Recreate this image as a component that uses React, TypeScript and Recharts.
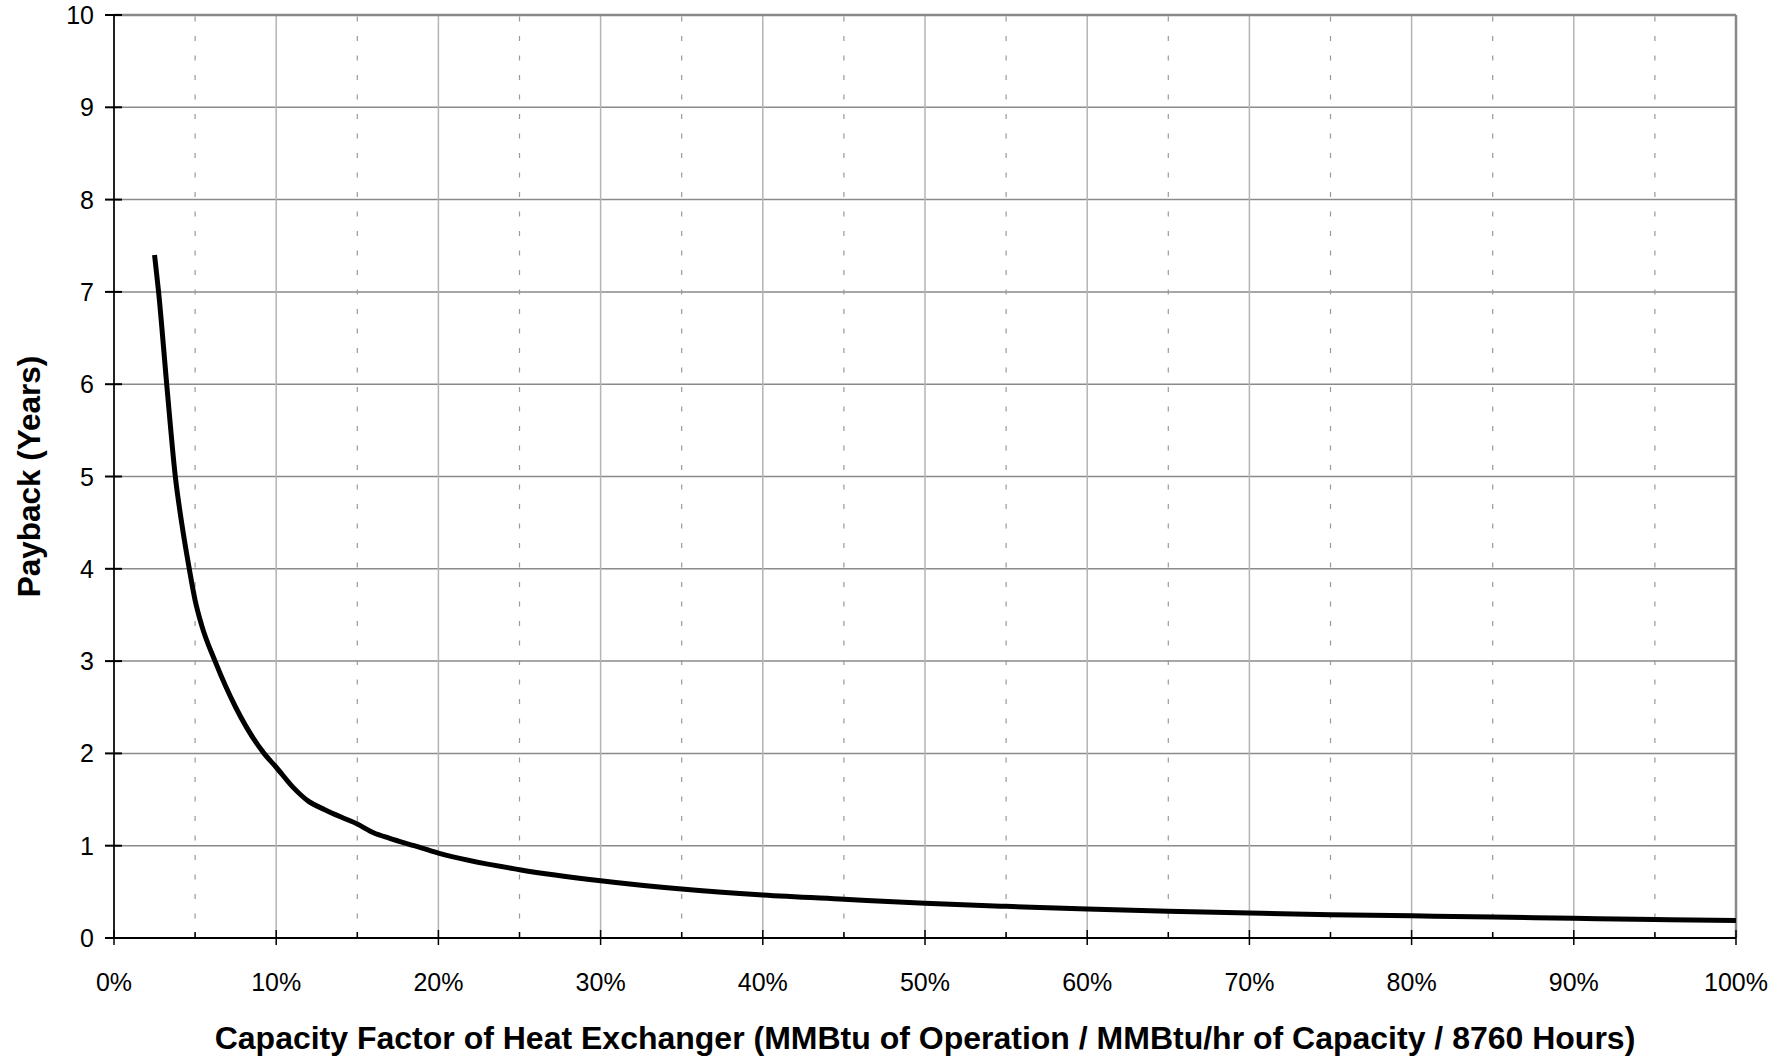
import { LineChart, Line, XAxis, YAxis, CartesianGrid, ReferenceLine } from 'recharts';

const capacityFactor = [
  2.5, 2.75, 3.25, 3.8, 4.17, 4.64, 5.0, 5.4, 6.23, 7.5, 9.25, 10, 11, 12, 13, 14, 15, 16, 17, 18.5, 20,
  25, 30, 35, 40, 45, 50, 55, 60, 65, 70, 75, 80, 85, 90, 95, 100,
];
const paybackYears = [
  7.4, 7.0, 6.0, 4.97, 4.5, 4.0, 3.66, 3.39, 3.0, 2.5, 2.0, 1.85, 1.64, 1.48, 1.39, 1.31, 1.235, 1.14, 1.08, 1.0, 0.92,
  0.74, 0.62, 0.53, 0.466, 0.42, 0.376, 0.343, 0.314, 0.29, 0.27, 0.253, 0.24, 0.228, 0.213, 0.2, 0.19,
];

const xTicks = [0, 5, 10, 15, 20, 25, 30, 35, 40, 45, 50, 55, 60, 65, 70, 75, 80, 85, 90, 95, 100];
const yTicks = [0, 1, 2, 3, 4, 5, 6, 7, 8, 9, 10];

const data = capacityFactor.map((cf, i) => ({ cf, payback: paybackYears[i] }));

const font = '"Liberation Sans", Arial, sans-serif';

const XTick = (props: any) => {
  const { x, y, payload } = props;
  const major = payload.value % 10 === 0;
  return (
    <g>
      {major ? (
        <>
          <line x1={x} x2={x} y1={y - 8} y2={y + 7} stroke="#000" strokeWidth={1.5} />
          <text x={x} y={y + 53} textAnchor="middle" fontSize={25} fontFamily={font} fill="#000">
            {payload.value}%
          </text>
        </>
      ) : (
        <line x1={x} x2={x} y1={y - 6} y2={y} stroke="#000" strokeWidth={1.5} />
      )}
    </g>
  );
};

const YTick = (props: any) => {
  const { x, y, payload } = props;
  return (
    <g>
      <line x1={x - 9} x2={x + 8} y1={y} y2={y} stroke="#000" strokeWidth={2} />
      <text x={x - 20} y={y + 9} textAnchor="end" fontSize={25} fontFamily={font} fill="#000">
        {payload.value}
      </text>
    </g>
  );
};

export default function App() {
  return (
    <div style={{ position: 'absolute', left: 0, top: 0, background: '#fff' }}>
      <LineChart width={1771} height={1058} data={data} margin={{ top: 15, right: 35, bottom: 0, left: 0 }}>
        <CartesianGrid vertical={false} stroke="#8a8a8a" strokeWidth={1.5} />
        {xTicks.map((v) =>
          v % 10 === 0 ? (
            <ReferenceLine key={v} x={v} stroke="#b4b4b4" strokeWidth={1.5} />
          ) : (
            <ReferenceLine key={v} x={v} stroke="#999" strokeWidth={1.2} strokeDasharray="5 14.5" />
          )
        )}
        <ReferenceLine y={10} stroke="#888" strokeWidth={2.5} />
        <ReferenceLine x={100} stroke="#888" strokeWidth={2.5} />
        <XAxis
          dataKey="cf"
          type="number"
          domain={[0, 100]}
          ticks={xTicks}
          interval={0}
          height={120}
          tickSize={0}
          tickMargin={0}
          tickLine={false}
          axisLine={{ stroke: '#000', strokeWidth: 2 }}
          tick={<XTick />}
          label={{
            content: ({ viewBox }: any) => (
              <text
                x={viewBox.x + viewBox.width / 2}
                y={viewBox.y + 111}
                textAnchor="middle"
                fontSize={32}
                fontWeight="bold"
                fontFamily={font}
                fill="#000"
              >
                Capacity Factor of Heat Exchanger (MMBtu of Operation / MMBtu/hr of Capacity / 8760 Hours)
              </text>
            ),
          }}
        />
        <YAxis
          type="number"
          domain={[0, 10]}
          ticks={yTicks}
          interval={0}
          width={114}
          tickSize={0}
          tickMargin={0}
          tickLine={false}
          axisLine={{ stroke: '#222', strokeWidth: 2 }}
          tick={<YTick />}
          label={{
            content: ({ viewBox }: any) => {
              const cx = 29;
              const cy = viewBox.y + viewBox.height / 2;
              return (
                <text
                  x={cx}
                  y={cy}
                  transform={`rotate(-90 ${cx} ${cy})`}
                  textAnchor="middle"
                  dominantBaseline="central"
                  fontSize={31.5}
                  fontWeight="bold"
                  fontFamily={font}
                  fill="#000"
                >
                  Payback (Years)
                </text>
              );
            },
          }}
        />
        <Line
          type="monotone"
          dataKey="payback"
          stroke="#000"
          strokeWidth={5}
          dot={false}
          isAnimationActive={false}
        />
      </LineChart>
    </div>
  );
}
